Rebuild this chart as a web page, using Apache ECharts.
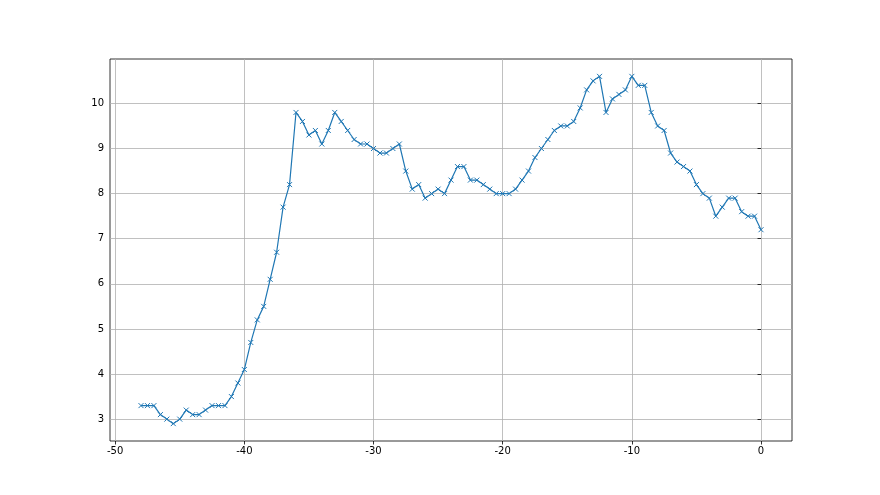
<!DOCTYPE html>
<html><head><meta charset="utf-8">
<script src="https://cdn.jsdelivr.net/npm/echarts@6/dist/echarts.min.js"></script>
<style>html,body{margin:0;padding:0;background:#fff}#c{width:880px;height:495px}</style>
</head><body><div id="c"></div>
<script>
const xValues = [-48,-47.5,-47,-46.5,-46,-45.5,-45,-44.5,-44,-43.5,-43,-42.5,-42,-41.5,-41,-40.5,-40,-39.5,-39,-38.5,-38,-37.5,-37,-36.5,-36,-35.5,-35,-34.5,-34,-33.5,-33,-32.5,-32,-31.5,-31,-30.5,-30,-29.5,-29,-28.5,-28,-27.5,-27,-26.5,-26,-25.5,-25,-24.5,-24,-23.5,-23,-22.5,-22,-21.5,-21,-20.5,-20,-19.5,-19,-18.5,-18,-17.5,-17,-16.5,-16,-15.5,-15,-14.5,-14,-13.5,-13,-12.5,-12,-11.5,-11,-10.5,-10,-9.5,-9,-8.5,-8,-7.5,-7,-6.5,-6,-5.5,-5,-4.5,-4,-3.5,-3,-2.5,-2,-1.5,-1,-0.5,0];
const yValues = [3.3,3.3,3.3,3.1,3.0,2.9,3.0,3.2,3.1,3.1,3.2,3.3,3.3,3.3,3.5,3.8,4.1,4.7,5.2,5.5,6.1,6.7,7.7,8.2,9.8,9.6,9.3,9.4,9.1,9.4,9.8,9.6,9.4,9.2,9.1,9.1,9.0,8.9,8.9,9.0,9.1,8.5,8.1,8.2,7.9,8.0,8.1,8.0,8.3,8.6,8.6,8.3,8.3,8.2,8.1,8.0,8.0,8.0,8.1,8.3,8.5,8.8,9.0,9.2,9.4,9.5,9.5,9.6,9.9,10.3,10.5,10.6,9.8,10.1,10.2,10.3,10.6,10.4,10.4,9.8,9.5,9.4,8.9,8.7,8.6,8.5,8.2,8.0,7.9,7.5,7.7,7.9,7.9,7.6,7.5,7.5,7.2];
const xTicks = [-50,-40,-30,-20,-10,0];
const yTicks = [3,4,5,6,7,8,9,10];

const gridStyle = {color:'#b0b0b0', width:0.8, type:'solid'};
const chart = echarts.init(document.getElementById('c'), null, {renderer:'canvas'});
chart.setOption({
  animation:false,
  grid:{left:110,right:88,top:59,bottom:54,show:true,borderColor:'#000',borderWidth:0.8,backgroundColor:'transparent'},
  xAxis:{type:'value',min:-50.4,max:2.4,
    axisLine:{show:false},
    axisTick:{show:true,length:3.5,inside:false,customValues:xTicks,lineStyle:{color:'#000',width:0.8}},
    axisLabel:{customValues:xTicks,color:'#000',fontSize:10,fontFamily:'DejaVu Sans',margin:5},
    splitLine:{show:true,lineStyle:gridStyle}},
  yAxis:{type:'value',min:2.515,max:10.985,
    axisLine:{show:false},
    axisTick:{show:true,length:3.5,inside:false,customValues:yTicks,lineStyle:{color:'#000',width:0.8}},
    axisLabel:{customValues:yTicks,color:'#000',fontSize:10,fontFamily:'DejaVu Sans',margin:6},
    splitLine:{show:true,lineStyle:gridStyle}},
  series:[{type:'line',data:xValues.map((x,i)=>[x,yValues[i]]),
    lineStyle:{color:'#1f77b4',width:1.2},
    symbol:'path://M0,0L10,10M10,0L0,10',symbolSize:5,showAllSymbol:true,
    itemStyle:{color:'none',borderColor:'#1f77b4',borderWidth:1}}]
});
</script></body></html>
